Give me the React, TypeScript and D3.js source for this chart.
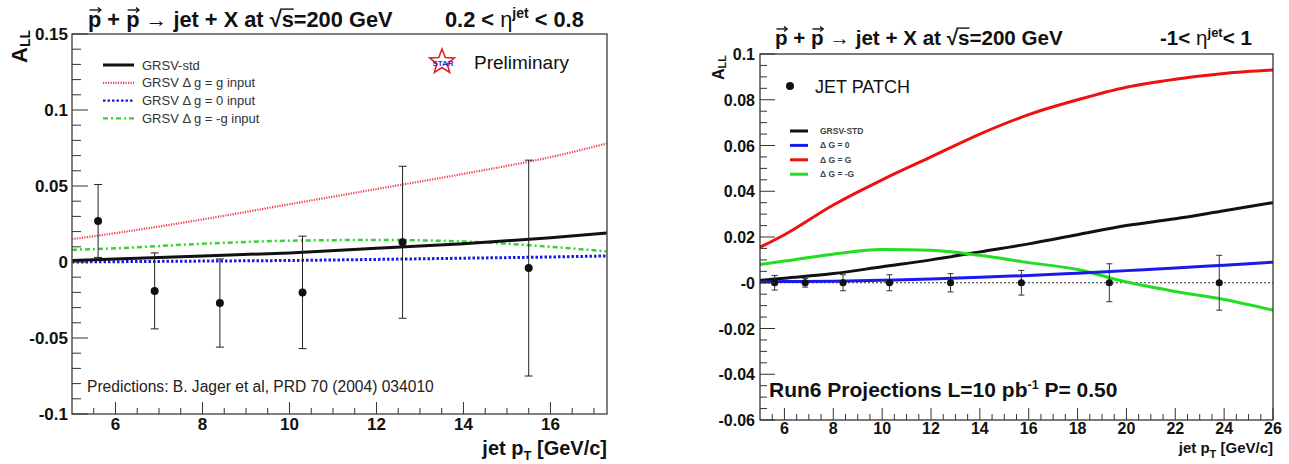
import React, { useLayoutEffect, useRef, useState } from 'react';
import * as d3 from 'd3';

const FONT = "'Liberation Sans', Arial, Helvetica, sans-serif";

// ---------- Left panel data (0.2 < eta < 0.8) ----------
const leftPtValues = [5.6, 6.9, 8.4, 10.3, 12.6, 15.5];
const leftAllValues = [0.027, -0.019, -0.027, -0.020, 0.013, -0.004];
const leftErrValues = [0.024, 0.025, 0.029, 0.037, 0.050, 0.071];

const leftCurvePt = [5, 6, 8, 10, 12, 14, 16, 17.3];
const leftStd = [0.001, 0.002, 0.004, 0.006, 0.009, 0.012, 0.016, 0.019];
const leftGeqG = [0.015, 0.019, 0.028, 0.038, 0.048, 0.058, 0.069, 0.078];
const leftGeq0 = [0.0, 0.0002, 0.0006, 0.001, 0.0017, 0.0025, 0.0033, 0.004];
const leftGeqNegG = [0.008, 0.009, 0.012, 0.014, 0.0145, 0.0135, 0.010, 0.007];

const leftXTicks = [6, 8, 10, 12, 14, 16];
const leftYTicks = [-0.1, -0.05, 0, 0.05, 0.1, 0.15];
const leftYTickLabels = ['-0.1', '-0.05', '0', '0.05', '0.1', '0.15'];
const leftLegend = ['GRSV-std', 'GRSV \u0394 g = g input', 'GRSV \u0394 g = 0 input', 'GRSV \u0394 g = -g input'];

// ---------- Right panel data (-1 < eta < 1) ----------
const rightPtValues = [5.6, 6.85, 8.4, 10.3, 12.8, 15.7, 19.3, 23.8];
const rightAllValues = [0, 0, 0, 0, 0, 0, 0, 0];
const rightErrValues = [0.0032, 0.0019, 0.0035, 0.0035, 0.004, 0.0054, 0.0083, 0.012];

const rightCurvePt = [5, 6, 8, 10, 12, 14, 16, 18, 20, 22, 24, 26];
const rightStd = [0.001, 0.002, 0.004, 0.007, 0.010, 0.0135, 0.017, 0.021, 0.025, 0.028, 0.0315, 0.035];
const rightGeq0 = [0.0003, 0.0005, 0.0007, 0.0011, 0.0016, 0.0024, 0.0032, 0.0042, 0.0053, 0.0064, 0.0077, 0.009];
const rightGeqG = [0.0155, 0.021, 0.034, 0.045, 0.055, 0.065, 0.0735, 0.080, 0.0855, 0.089, 0.0915, 0.093];
const rightGeqNegG = [0.008, 0.0095, 0.0125, 0.0145, 0.0142, 0.012, 0.0088, 0.0058, 0.0003, -0.0038, -0.0073, -0.012];

const rightXTicks = [6, 8, 10, 12, 14, 16, 18, 20, 22, 24, 26];
const rightYTicks = [-0.06, -0.04, -0.02, 0, 0.02, 0.04, 0.06, 0.08, 0.1];
const rightYTickLabels = ['-0.06', '-0.04', '-0.02', '-0', '0.02', '0.04', '0.06', '0.08', '0.1'];
const rightLegend = ['GRSV-STD', '\u0394 G = 0', '\u0394 G = G', '\u0394 G = -G'];

// ---------- Scales ----------
const xL = d3.scaleLinear().domain([5, 17.3]).range([72, 607]);
const yL = d3.scaleLinear().domain([-0.1, 0.15]).range([414, 34]);
const xR = d3.scaleLinear().domain([5, 26]).range([760, 1273]);
const yR = d3.scaleLinear().domain([-0.06, 0.1]).range([420, 54]);

function curvePath(xs: number[], ys: number[], xs_: any, ys_: any) {
  const line = d3.line<number>()
    .x((_, i) => xs_(xs[i]))
    .y((d) => ys_(d))
    .curve(d3.curveMonotoneX);
  return line(ys) || '';
}

// Title with vector arrows above the p's and an overline for sqrt
function PhysTitle({ x, y, size }: { x: number; y: number; size: number }) {
  const ref = useRef<SVGTextElement>(null);
  const [ext, setExt] = useState<any>(null);
  const s = 'p + p \u2192 jet + X at \u221As=200 GeV';
  useLayoutEffect(() => {
    const t = ref.current;
    if (!t) return;
    const iS = s.indexOf('\u221A');
    const e0 = t.getExtentOfChar(0);
    const e4 = t.getExtentOfChar(4);
    const eR = t.getExtentOfChar(iS);
    const eS = t.getExtentOfChar(iS + 1);
    setExt({ p: [e0, e4], root: eR, s: eS });
  }, []);
  const arrowY = y - size * 0.78;
  return (
    <g>
      <text ref={ref} x={x} y={y} fontFamily={FONT} fontWeight="bold" fontSize={size} fill="#111">{s}</text>
      {ext && ext.p.map((e: any, i: number) => {
        const x0 = e.x + 1.5, x1 = e.x + e.width - 0.5;
        return (
          <g key={i} stroke="#111" strokeWidth={1.4} fill="none">
            <line x1={x0} x2={x1} y1={arrowY} y2={arrowY} />
            <polyline points={`${x1 - 3},${arrowY - 2.5} ${x1},${arrowY} ${x1 - 3},${arrowY + 2.5}`} />
          </g>
        );
      })}
      {ext && (
        <line x1={ext.root.x + ext.root.width - 1.5} x2={ext.s.x + ext.s.width}
          y1={y - size * 0.82} y2={y - size * 0.82} stroke="#111" strokeWidth={1.4} />
      )}
    </g>
  );
}

function star(cx: number, cy: number, ro: number, ri: number) {
  const pts: string[] = [];
  for (let i = 0; i < 10; i++) {
    const r = i % 2 === 0 ? ro : ri;
    const a = -Math.PI / 2 + (i * Math.PI) / 5;
    pts.push(`${cx + r * Math.cos(a)},${cy + r * Math.sin(a)}`);
  }
  return pts.join(' ');
}

function LeftPanel() {
  const minorX = d3.range(5.5, 17.31, 0.5);
  const minorY = d3.range(-0.1, 0.1501, 0.01);
  const styles = [
    { stroke: '#111', w: 3, dash: undefined },
    { stroke: '#f03c50', w: 2.2, dash: '1.2 1.3' },
    { stroke: '#1a1ae6', w: 3, dash: '2.5 2' },
    { stroke: '#33d433', w: 2.5, dash: '5 3 2 3' },
  ];
  const series = [leftStd, leftGeqG, leftGeq0, leftGeqNegG];
  const [x0, x1] = xL.range();
  const [yb, yt] = yL.range();
  return (
    <g>
      <defs>
        <clipPath id="clipL"><rect x={x0} y={yt} width={x1 - x0} height={yb - yt} /></clipPath>
      </defs>
      {/* curves */}
      <g clipPath="url(#clipL)">
        {[1, 3, 2, 0].map((k) => (
          <path key={k} d={curvePath(leftCurvePt, series[k], xL, yL)} fill="none"
            stroke={styles[k].stroke} strokeWidth={styles[k].w} strokeDasharray={styles[k].dash} />
        ))}
      </g>
      {/* data points */}
      {leftPtValues.map((pt, i) => {
        const cx = xL(pt);
        const top = yL(leftAllValues[i] + leftErrValues[i]);
        const bot = yL(leftAllValues[i] - leftErrValues[i]);
        return (
          <g key={i}>
            <line x1={cx} x2={cx} y1={top} y2={bot} stroke="#222" strokeWidth={1} />
            <line x1={cx - 4} x2={cx + 4} y1={top} y2={top} stroke="#222" strokeWidth={1} />
            <line x1={cx - 4} x2={cx + 4} y1={bot} y2={bot} stroke="#222" strokeWidth={1} />
            <circle cx={cx} cy={yL(leftAllValues[i])} r={4} fill="#111" />
          </g>
        );
      })}
      {/* frame */}
      <rect x={x0} y={yt} width={x1 - x0} height={yb - yt} fill="none" stroke="#555" strokeWidth={1.5} />
      {/* ticks */}
      <g stroke="#333" strokeWidth={1}>
        {minorX.map((v) => (
          <line key={'mx' + v} x1={xL(v)} x2={xL(v)} y1={yb} y2={yb - (leftXTicks.includes(v) ? 12 : 6)} />
        ))}
        {minorY.map((v, i) => {
          const major = i % 5 === 0;
          return <line key={'my' + i} x1={x0} x2={x0 + (major ? 16 : 9)} y1={yL(v)} y2={yL(v)} />;
        })}
      </g>
      {/* tick labels */}
      <g fontFamily={FONT} fontWeight="bold" fontSize={17} fill="#111">
        {leftXTicks.map((v) => (
          <text key={v} x={xL(v)} y={yb + 16} textAnchor="middle">{v}</text>
        ))}
        {leftYTicks.map((v, i) => (
          <text key={v} x={x0 - 4} y={yL(v) + 6} textAnchor="end">{leftYTickLabels[i]}</text>
        ))}
      </g>
      {/* axis titles */}
      <text x={x1} y={455} textAnchor="end" fontFamily={FONT} fontWeight="bold" fontSize={20} fill="#111">
        jet p<tspan fontSize={13} dy={5}>T</tspan><tspan dy={-5}> [GeV/c]</tspan>
      </text>
      <text transform="translate(27,30) rotate(-90)" textAnchor="end" fontFamily={FONT} fontWeight="bold" fontSize={22} fill="#111">
        A<tspan fontSize={14} dy={3}>LL</tspan>
      </text>
      {/* title */}
      <PhysTitle x={88} y={27} size={21.8} />
      <text x={445} y={27} fontFamily={FONT} fontWeight="bold" fontSize={21.8} fill="#111">
        0.2 &lt; <tspan fontWeight="normal">{'\u03B7'}</tspan><tspan fontSize={14} dy={-9}>jet</tspan><tspan dy={9}> &lt; 0.8</tspan>
      </text>
      {/* legend */}
      {leftLegend.map((lab, i) => (
        <g key={lab}>
          <line x1={103} x2={134} y1={65 + i * 17.8} y2={65 + i * 17.8}
            stroke={styles[i].stroke} strokeWidth={i === 0 ? 3 : 2.2} strokeDasharray={styles[i].dash} />
          <text x={142} y={65 + i * 17.8 + 4.5} fontFamily={FONT} fontSize={13} fill="#333">{lab}</text>
        </g>
      ))}
      {/* STAR Preliminary */}
      <polygon points={star(442, 62, 13, 5.5)} fill="#fff" stroke="#e8202a" strokeWidth={1.6} />
      <text x={443} y={66} textAnchor="middle" fontFamily={FONT} fontWeight="bold" fontSize={8} fill="#2a2ad8">STAR</text>
      <text x={474} y={69} fontFamily={FONT} fontSize={19} fill="#111">Preliminary</text>
      <text x={87} y={392} fontFamily={FONT} fontSize={15.6} fill="#222">Predictions: B. Jager et al, PRD 70 (2004) 034010</text>
    </g>
  );
}

function RightPanel() {
  const minorX = d3.range(5.5, 26.01, 0.5);
  const minorY = d3.range(-0.06, 0.1001, 0.005);
  const colors = ['#111', '#1a1aee', '#ee1111', '#22dd22'];
  const series = [rightStd, rightGeq0, rightGeqG, rightGeqNegG];
  const [x0, x1] = xR.range();
  const [yb, yt] = yR.range();
  return (
    <g>
      <defs>
        <clipPath id="clipR"><rect x={x0} y={yt} width={x1 - x0} height={yb - yt} /></clipPath>
      </defs>
      <line x1={x0} x2={x1} y1={yR(0)} y2={yR(0)} stroke="#333" strokeWidth={1} strokeDasharray="2 2" />
      <g clipPath="url(#clipR)">
        {[0, 2, 3, 1].map((k) => (
          <path key={k} d={curvePath(rightCurvePt, series[k], xR, yR)} fill="none"
            stroke={colors[k]} strokeWidth={3} />
        ))}
      </g>
      {rightPtValues.map((pt, i) => {
        const cx = xR(pt);
        const top = yR(rightAllValues[i] + rightErrValues[i]);
        const bot = yR(rightAllValues[i] - rightErrValues[i]);
        return (
          <g key={i}>
            <line x1={cx} x2={cx} y1={top} y2={bot} stroke="#333" strokeWidth={1} />
            <line x1={cx - 3} x2={cx + 3} y1={top} y2={top} stroke="#333" strokeWidth={1} />
            <line x1={cx - 3} x2={cx + 3} y1={bot} y2={bot} stroke="#333" strokeWidth={1} />
            <circle cx={cx} cy={yR(rightAllValues[i])} r={3.6} fill="#111" />
          </g>
        );
      })}
      <rect x={x0} y={yt} width={x1 - x0} height={yb - yt} fill="none" stroke="#222" strokeWidth={1.2} />
      <g stroke="#333" strokeWidth={1}>
        {minorX.map((v) => (
          <line key={'mx' + v} x1={xR(v)} x2={xR(v)} y1={yb} y2={yb - (rightXTicks.includes(v) ? 12 : 6)} />
        ))}
        {minorY.map((v, i) => {
          const major = i % 4 === 0;
          return <line key={'my' + i} x1={x0} x2={x0 + (major ? 15 : 7)} y1={yR(v)} y2={yR(v)} />;
        })}
      </g>
      <g fontFamily={FONT} fontWeight="bold" fontSize={16} fill="#111">
        {rightXTicks.map((v) => (
          <text key={v} x={xR(v)} y={yb + 14} textAnchor="middle">{v}</text>
        ))}
        {rightYTicks.map((v, i) => (
          <text key={v} x={x0 - 5} y={yR(v) + 6} textAnchor="end">{rightYTickLabels[i]}</text>
        ))}
      </g>
      <text x={x1} y={453} textAnchor="end" fontFamily={FONT} fontWeight="bold" fontSize={15} fill="#111">
        jet p<tspan fontSize={11} dy={5}>T</tspan><tspan dy={-5}> [GeV/c]</tspan>
      </text>
      <text transform="translate(724,55) rotate(-90)" textAnchor="end" fontFamily={FONT} fontWeight="bold" fontSize={16} fill="#111">
        A<tspan fontSize={11} dy={2}>LL</tspan>
      </text>
      <PhysTitle x={775} y={45} size={20.6} />
      <text x={1160} y={45} fontFamily={FONT} fontWeight="bold" fontSize={20.6} fill="#111">
        -1&lt; <tspan fontWeight="normal">{'\u03B7'}</tspan><tspan fontSize={13} dy={-8}>jet</tspan><tspan dy={8}>&lt; 1</tspan>
      </text>
      {/* legend */}
      <circle cx={790} cy={86} r={4} fill="#111" />
      <text x={815} y={93} fontFamily={FONT} fontSize={18} fill="#111">JET PATCH</text>
      {rightLegend.map((lab, i) => (
        <g key={lab}>
          <line x1={790} x2={808} y1={131 + i * 14.4} y2={131 + i * 14.4} stroke={colors[i]} strokeWidth={3} />
          <text x={820} y={131 + i * 14.4 + 3} fontFamily={FONT} fontWeight="bold" fontSize={8.5} fill="#444">{lab}</text>
        </g>
      ))}
      <text x={769} y={397} fontFamily={FONT} fontWeight="bold" fontSize={21} fill="#111">
        Run6 Projections L=10 pb<tspan fontSize={12.5} dy={-8}>-1</tspan><tspan dy={8}> P= 0.50</tspan>
      </text>
    </g>
  );
}

export default function App() {
  return (
    <svg width={1289} height={464} viewBox="0 0 1289 464"
      style={{ position: 'absolute', left: 0, top: 0, display: 'block', background: '#fff' }}>
      <rect width={1289} height={464} fill="#fff" />
      <LeftPanel />
      <RightPanel />
    </svg>
  );
}
